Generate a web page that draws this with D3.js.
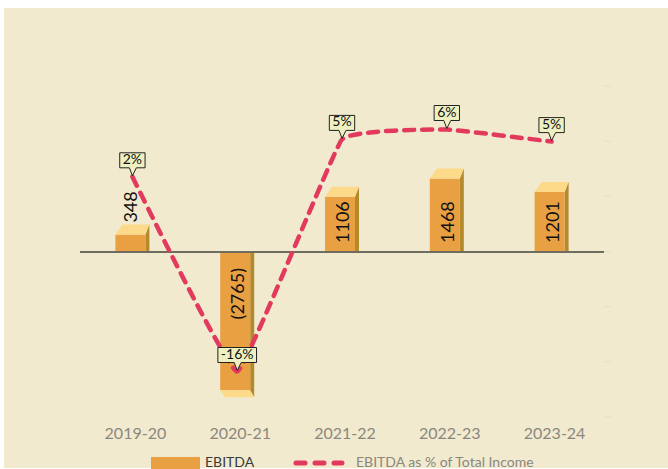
<!DOCTYPE html>
<html><head><meta charset="utf-8">
<script src="https://cdn.jsdelivr.net/npm/d3@7"></script>
<style>html,body{margin:0;padding:0;background:#fff;}svg{display:block;}</style>
</head><body>
<script>
const categories = ["2019-20","2020-21","2021-22","2022-23","2023-24"];
const ebitda = [348, -2765, 1106, 1468, 1201];
const ebitdaLabels = ["348","(2765)","1106","1468","1201"];
const pct = [1.8, -15.9, 5.2, 6.1, 5.0];
const pctLabels = ["2%","-16%","5%","6%","5%"];
const rightTicks = [-20,-15,-10,-5,0,5,10];

const W = 668, H = 469;
const svg = d3.select("body").append("svg").attr("width", W).attr("height", H);
svg.append("rect").attr("x",4).attr("y",8).attr("width",W-4).attr("height",H-9).attr("fill","#F2EACF");

const x = d3.scaleBand().domain(categories).range([80,604]).paddingInner(0).paddingOuter(0);
const y = d3.scaleLinear().domain([-3000,3000]).range([402,102]);
const yp = d3.scaleLinear().domain([-20,10]).range([416.6,86.6]);
const font = "Lato, 'Open Sans', sans-serif";

// faint right ticks
const rt = d3.scaleLinear().domain([-20,10]).range([417,86]);
svg.append("g").selectAll("line").data(rightTicks).join("line")
  .attr("x1",604).attr("x2",611)
  .attr("y1",d=>rt(d)).attr("y2",d=>rt(d))
  .attr("stroke","#EBDDC0").attr("stroke-width",1);

// zero line
svg.append("line").attr("x1",80).attr("x2",604).attr("y1",y(0)).attr("y2",y(0))
  .attr("stroke","#6E6C5E").attr("stroke-width",2);

const bw = 30, dxs = 4, dxt = 7, dy = 10;
const bars = svg.append("g");
ebitda.forEach((v,i)=>{
  const cx = x(categories[i]) + x.bandwidth()/2;
  const x0 = cx - (bw+dxs)/2, x1 = x0 + bw;
  const y0 = y(0), yv = y(v);
  const g = bars.append("g");
  if (v >= 0) {
    g.append("polygon").attr("points",[[x1,yv],[x1+dxs,yv-dy],[x1+dxs,y0-1],[x1,y0-1]].join(" ")).attr("fill","#B38A2C");
    g.append("rect").attr("x",x0).attr("y",yv).attr("width",bw).attr("height",y0-yv-1).attr("fill","#E8A042");
    g.append("polygon").attr("points",[[x0,yv],[x0+dxt,yv-dy],[x1+dxs,yv-dy],[x1,yv]].join(" ")).attr("fill","#FDD98A");
  } else {
    g.append("polygon").attr("points",[[x1,y0+1],[x1+dxs,y0+1],[x1+dxs,yv+7],[x1,yv]].join(" ")).attr("fill","#B38A2C");
    g.append("rect").attr("x",x0).attr("y",y0+1).attr("width",bw).attr("height",yv-y0-1).attr("fill","#E8A042");
    g.append("polygon").attr("points",[[x0,yv],[x1,yv],[x1+dxs,yv+7],[x0+dxt-2,yv+7]].join(" ")).attr("fill","#FDD98A");
  }
  const h = Math.abs(yv-y0);
  let ty, anchor, tx = cx;
  if (v >= 0) {
    if (h < 45) { ty = yv - dy - 2; anchor = "start"; tx = cx - 2; }
    else { ty = y0 - 9; anchor = "start"; }
  } else { ty = y0 + 16; anchor = "end"; }
  g.append("text").attr("transform",`translate(${tx},${ty}) rotate(-90)`)
    .attr("text-anchor",anchor).attr("dominant-baseline","central")
    .attr("font-family",font).attr("font-size",18).attr("fill","#111").text(ebitdaLabels[i]);
});

// line
const pts = pct.map((p,i)=>[x(categories[i])+x.bandwidth()/2, yp(p)]);
const line = d3.line().curve(d3.curveCardinal.tension(0.75));
svg.append("path").attr("d", line(pts)).attr("fill","none")
  .attr("stroke","#E23A5C").attr("stroke-width",4.5)
  .attr("stroke-dasharray","10 8").attr("stroke-linecap","round");

// callouts
pts.forEach((p,i)=>{
  const g = svg.append("g").attr("transform",`translate(${p[0]},${p[1]})`);
  const t = g.append("text").attr("font-family",font).attr("font-size",14)
    .attr("fill","#111").attr("text-anchor","middle").attr("y",-13).text(pctLabels[i]);
  const w = t.node().getComputedTextLength() + 6, hh = 15;
  const bx = -w/2, by = -9 - hh;
  g.insert("path","text").attr("d",
    `M${bx},${by}H${bx+w}V${by+hh}H4L0,-1L-3,${by+hh}H${bx}Z`)
    .attr("fill","#EEF0C0").attr("stroke","#222").attr("stroke-width",1);
});

// x-axis labels
svg.append("g").selectAll("text").data(categories).join("text")
  .attr("x",d=>x(d)+x.bandwidth()/2+3).attr("y",439)
  .attr("text-anchor","middle").attr("font-family",font).attr("font-size",16)
  .attr("fill","#8A877E").text(d=>d);

// legend
svg.append("rect").attr("x",151).attr("y",457).attr("width",49).attr("height",12).attr("fill","#E8A042");
svg.append("text").attr("x",205).attr("y",467).attr("font-family",font).attr("font-size",14)
  .attr("fill","#3A3A3A").text("EBITDA");
svg.append("line").attr("x1",296).attr("x2",342).attr("y1",463).attr("y2",463)
  .attr("stroke","#E23A5C").attr("stroke-width",5).attr("stroke-linecap","round")
  .attr("stroke-dasharray","9 10");
svg.append("text").attr("x",356).attr("y",467).attr("font-family",font).attr("font-size",14)
  .attr("fill","#8A877E").text("EBITDA as % of Total Income");
</script>
</body></html>
